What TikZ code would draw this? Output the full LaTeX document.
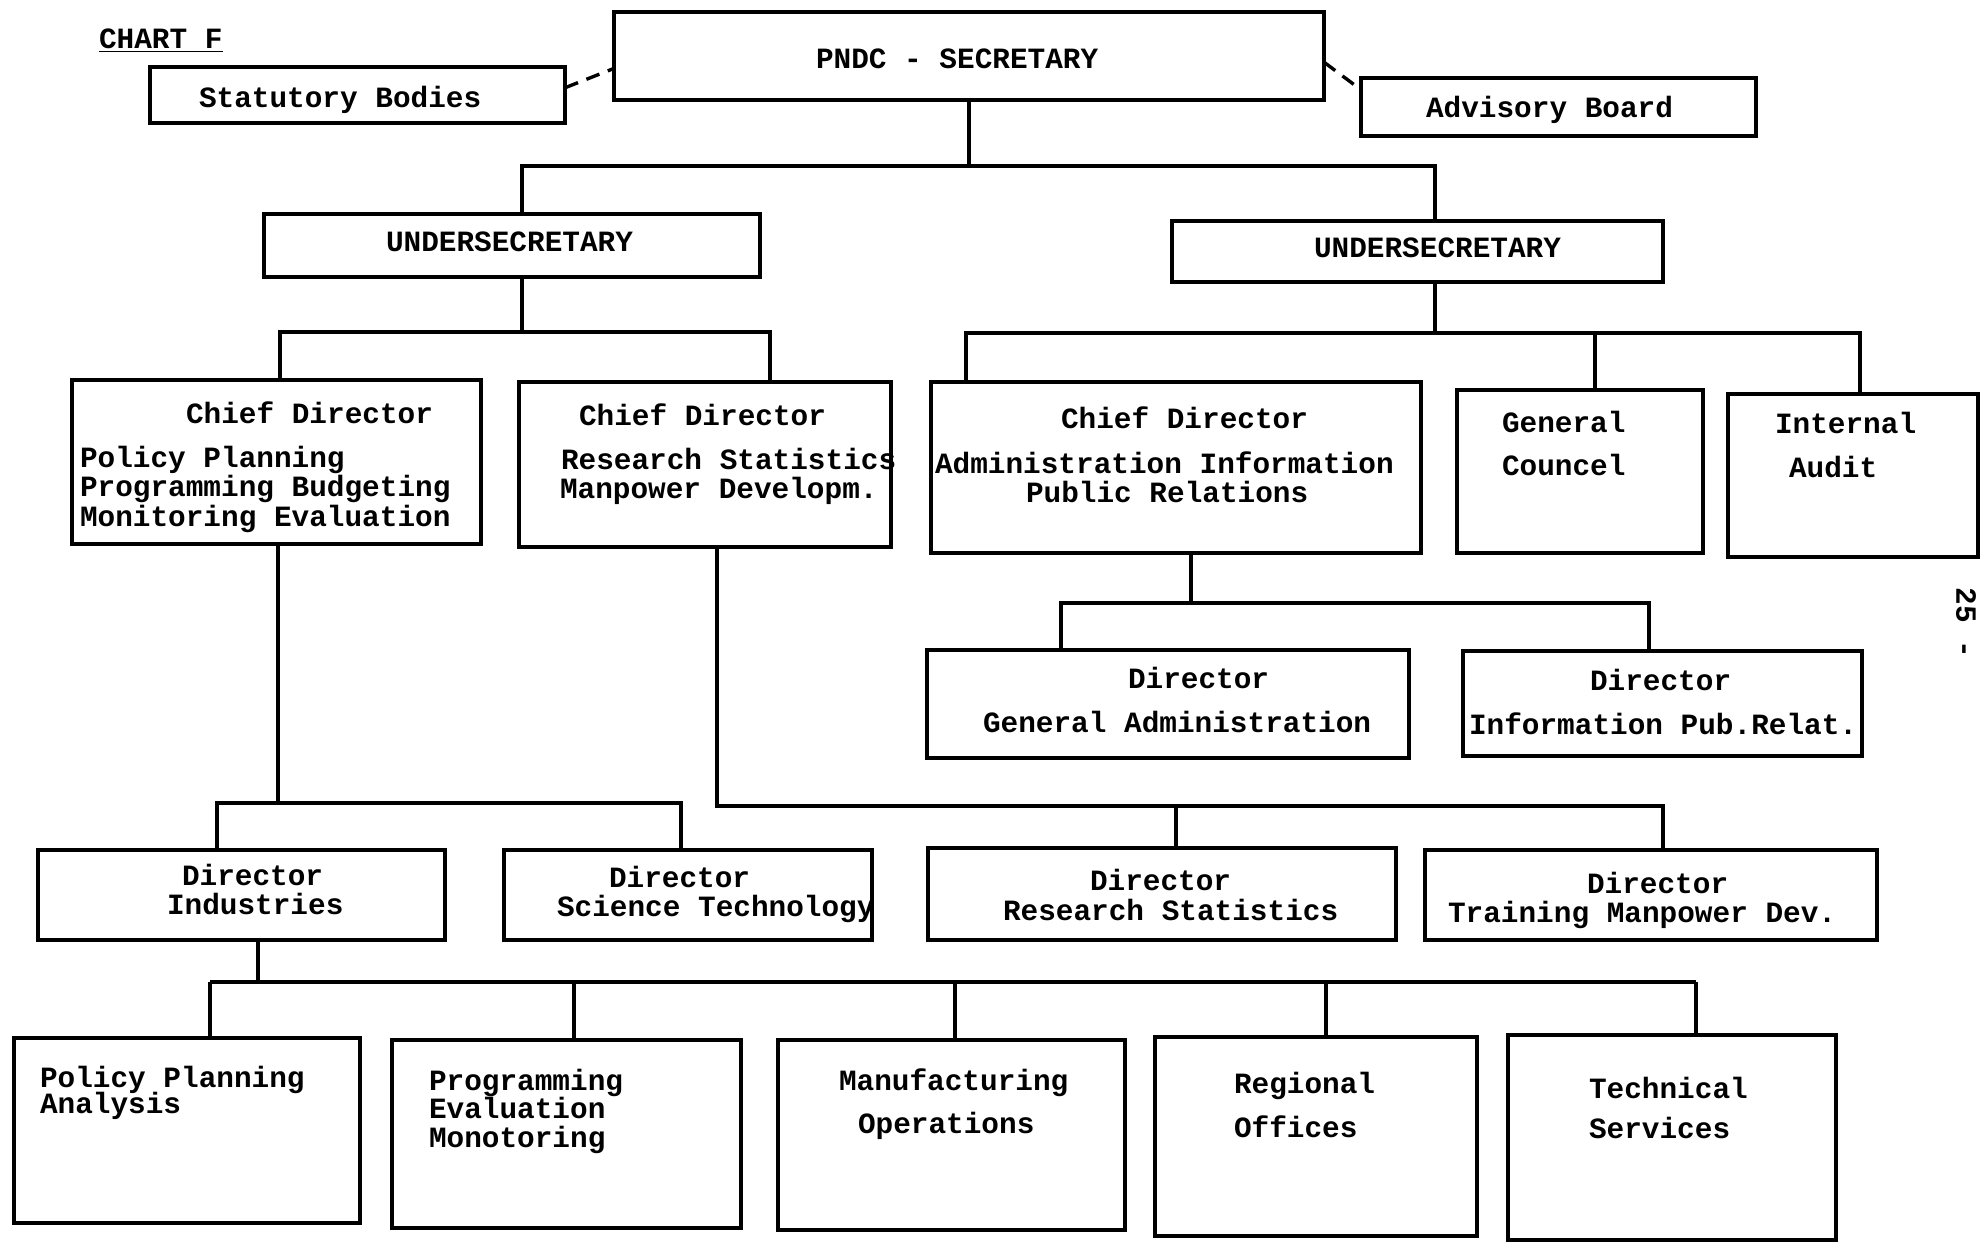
\documentclass[tikz,border=0pt]{standalone}
\usepackage{fontspec}
\setmainfont{Liberation Mono}
\newlength{\du}
\setlength{\du}{0.5pt}

\begin{document}
\begin{tikzpicture}[
  unitbox/.style={draw=dialinecolor,rectangle,inner sep=0pt,outer sep=0pt,line width=4.4\du},
  boxtext/.style={anchor=base west,inner sep=0pt,outer sep=0pt,color=dialinecolor,font=\fontsize{14.7}{14.7}\selectfont\bfseries},
  wire/.style={draw=dialinecolor,line width=3.4\du},
  dashwire/.style={wire,dash pattern=on 14\du off 9\du}]
\pgftransformxscale{1.000000}
\pgftransformyscale{-1.000000}
\definecolor{dialinecolor}{rgb}{0.000000, 0.000000, 0.000000}
\useasboundingbox (0\du,0\du) rectangle (1985\du,1244\du);
% boxes, top level
\node[unitbox,minimum width=415\du,minimum height=56\du] (stat) at (357.5\du,95\du) {};
\node[unitbox,minimum width=710\du,minimum height=88\du] (pndc) at (969\du,56\du) {};
\node[unitbox,minimum width=395\du,minimum height=58\du] (adv) at (1558.5\du,107\du) {};
\node[unitbox,minimum width=496\du,minimum height=63\du] (us1) at (512\du,245.5\du) {};
\node[unitbox,minimum width=491\du,minimum height=61\du] (us2) at (1417.5\du,251.5\du) {};
% chief directors
\node[unitbox,minimum width=409\du,minimum height=164\du] (cd1) at (276.5\du,462\du) {};
\node[unitbox,minimum width=372\du,minimum height=165\du] (cd2) at (705\du,464.5\du) {};
\node[unitbox,minimum width=490\du,minimum height=171\du] (cd3) at (1176\du,467.5\du) {};
\node[unitbox,minimum width=246\du,minimum height=163\du] (gc) at (1580\du,471.5\du) {};
\node[unitbox,minimum width=250\du,minimum height=163\du] (ia) at (1853\du,475.5\du) {};
\node[unitbox,minimum width=482\du,minimum height=108\du] (dga) at (1168\du,704\du) {};
\node[unitbox,minimum width=399\du,minimum height=105\du] (dip) at (1662.5\du,703.5\du) {};
% directors
\node[unitbox,minimum width=407\du,minimum height=90\du] (di) at (241.5\du,895\du) {};
\node[unitbox,minimum width=368\du,minimum height=90\du] (dst) at (688\du,895\du) {};
\node[unitbox,minimum width=468\du,minimum height=92\du] (drs) at (1162\du,894\du) {};
\node[unitbox,minimum width=452\du,minimum height=90\du] (dtm) at (1651\du,895\du) {};
% divisions
\node[unitbox,minimum width=346\du,minimum height=185\du] (ppa) at (187\du,1130.5\du) {};
\node[unitbox,minimum width=349\du,minimum height=188\du] (pem) at (566.5\du,1134\du) {};
\node[unitbox,minimum width=347\du,minimum height=190\du] (mo) at (951.5\du,1135\du) {};
\node[unitbox,minimum width=322\du,minimum height=199\du] (ro) at (1316\du,1136.5\du) {};
\node[unitbox,minimum width=328\du,minimum height=205\du] (ts) at (1672\du,1137.5\du) {};
% setfont left to latex
\node[boxtext] (chart) at (99\du,48\du) {\underline{CHART F}};
\node[boxtext] (stat-t) at (199\du,107\du) {Statutory Bodies};
\node[boxtext] (pndc-t) at (816\du,68\du) {PNDC - SECRETARY};
\node[boxtext] (adv-t) at (1426\du,117\du) {Advisory Board};
\node[boxtext] (us1-t) at (386\du,251\du) {UNDERSECRETARY};
\node[boxtext] (us2-t) at (1314\du,257\du) {UNDERSECRETARY};
\node[boxtext] (cd1-a) at (186\du,423\du) {Chief Director};
\node[boxtext] (cd1-b) at (80\du,467\du) {Policy Planning};
\node[boxtext] (cd1-c) at (80\du,496\du) {Programming Budgeting};
\node[boxtext] (cd1-d) at (80\du,526\du) {Monitoring Evaluation};
\node[boxtext] (cd2-a) at (579\du,425\du) {Chief Director};
\node[boxtext] (cd2-b) at (561\du,469\du) {Research Statistics};
\node[boxtext] (cd2-c) at (560\du,498\du) {Manpower Developm.};
\node[boxtext] (cd3-a) at (1061\du,428\du) {Chief Director};
\node[boxtext] (cd3-b) at (935\du,473\du) {Administration Information};
\node[boxtext] (cd3-c) at (1026\du,502\du) {Public Relations};
\node[boxtext] (gc-a) at (1502\du,432\du) {General};
\node[boxtext] (gc-b) at (1502\du,475\du) {Councel};
\node[boxtext] (ia-a) at (1775\du,433\du) {Internal};
\node[boxtext] (ia-b) at (1789\du,477\du) {Audit};
\node[boxtext] (dga-a) at (1128\du,688\du) {Director};
\node[boxtext] (dga-b) at (983\du,732\du) {General Administration};
\node[boxtext] (dip-a) at (1590\du,690\du) {Director};
\node[boxtext] (dip-b) at (1469\du,734\du) {Information Pub.Relat.};
\node[boxtext] (di-a) at (182\du,885\du) {Director};
\node[boxtext] (di-b) at (167\du,914\du) {Industries};
\node[boxtext] (dst-a) at (609\du,887\du) {Director};
\node[boxtext] (dst-b) at (557\du,916\du) {Science Technology};
\node[boxtext] (drs-a) at (1090\du,890\du) {Director};
\node[boxtext] (drs-b) at (1003\du,920\du) {Research Statistics};
\node[boxtext] (dtm-a) at (1587\du,893\du) {Director};
\node[boxtext] (dtm-b) at (1448\du,922\du) {Training Manpower Dev.};
\node[boxtext] (ppa-a) at (40\du,1087\du) {Policy Planning};
\node[boxtext] (ppa-b) at (40\du,1113\du) {Analysis};
\node[boxtext] (pem-a) at (429\du,1090\du) {Programming};
\node[boxtext] (pem-b) at (429\du,1118\du) {Evaluation};
\node[boxtext] (pem-c) at (429\du,1147\du) {Monotoring};
\node[boxtext] (mo-a) at (839\du,1090\du) {Manufacturing};
\node[boxtext] (mo-b) at (858\du,1133\du) {Operations};
\node[boxtext] (ro-a) at (1234\du,1093\du) {Regional};
\node[boxtext] (ro-b) at (1234\du,1137\du) {Offices};
\node[boxtext] (ts-a) at (1589\du,1098\du) {Technical};
\node[boxtext] (ts-b) at (1589\du,1138\du) {Services};
\node[boxtext,anchor=center,rotate=-90] (page) at (1966\du,623\du) {25 -};
% junctions
\coordinate (pa1) at (522\du,166\du);
\coordinate (pa2) at (1435\du,166\du);
\coordinate (pb1) at (280\du,332\du);
\coordinate (pb2) at (770\du,332\du);
\coordinate (pc1) at (966\du,333\du);
\coordinate (pc2) at (1595\du,333\du);
\coordinate (pc3) at (1860\du,333\du);
\coordinate (pd0) at (1191\du,603\du);
\coordinate (pd1) at (1061\du,603\du);
\coordinate (pd2) at (1649\du,603\du);
\coordinate (pe0) at (278\du,803\du);
\coordinate (pe1) at (217\du,803\du);
\coordinate (pe2) at (681\du,803\du);
\coordinate (pf0) at (717\du,806\du);
\coordinate (pf1) at (1176\du,806\du);
\coordinate (pf2) at (1663\du,806\du);
\coordinate (pg0) at (258\du,982\du);
\coordinate (pg1) at (210\du,982\du);
\coordinate (pg2) at (574\du,982\du);
\coordinate (pg3) at (955\du,982\du);
\coordinate (pg4) at (1326\du,982\du);
\coordinate (pg5) at (1696\du,982\du);
% connectors
\draw[dashwire] (stat.2) -- (pndc.182);
\draw[dashwire] (pndc.-1) -- (adv.175);
\draw[wire] (pndc.south) -- (pndc.south |- pa1);
\draw[wire] (us1.north -| pa1) -- (pa1) -- (pa2) -- (us2.north -| pa2);
\draw[wire] (us1.south -| pa1) -- (pa1 |- pb1);
\draw[wire] (cd1.north -| pb1) -- (pb1) -- (pb2) -- (cd2.north -| pb2);
\draw[wire] (us2.south -| pa2) -- (pa2 |- pc1);
\draw[wire] (cd3.north -| pc1) -- (pc1) -- (pc3) -- (ia.north -| pc3);
\draw[wire] (pc2) -- (gc.north -| pc2);
\draw[wire] (cd3.south -| pd0) -- (pd0);
\draw[wire] (dga.north -| pd1) -- (pd1) -- (pd2) -- (dip.north -| pd2);
\draw[wire] (cd1.south -| pe0) -- (pe0);
\draw[wire] (di.north -| pe1) -- (pe1) -- (pe2) -- (dst.north -| pe2);
\draw[wire] (cd2.south -| pf0) -- (pf0) -- (pf2) -- (dtm.north -| pf2);
\draw[wire] (pf1) -- (drs.north -| pf1);
\draw[wire] (di.south -| pg0) -- (pg0);
\draw[wire] (pg1) -- (pg5);
\foreach \n/\c in {ppa/pg1,pem/pg2,mo/pg3,ro/pg4,ts/pg5}
  \draw[wire] (\c) -- (\n.north -| \c);
\end{tikzpicture}
\end{document}
